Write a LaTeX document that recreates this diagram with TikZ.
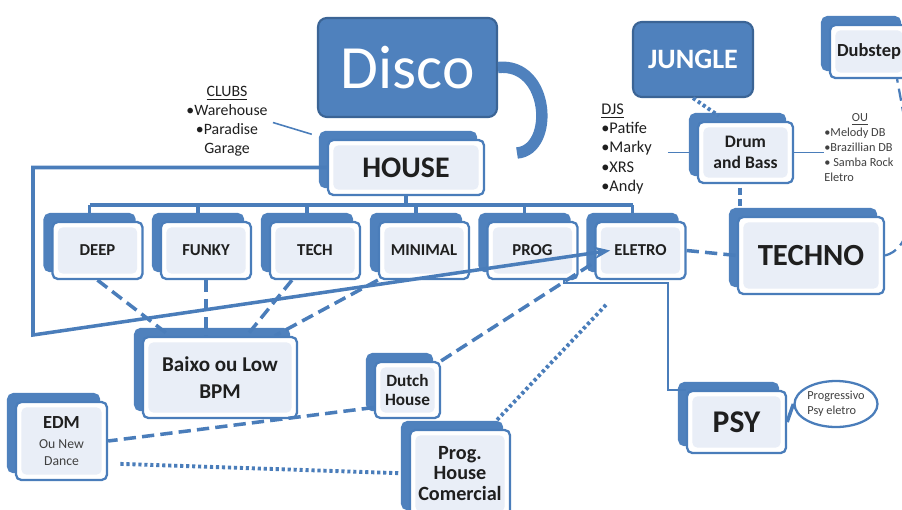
\documentclass[tikz,border=0pt]{standalone}
\usepackage{fontspec}
\setmainfont{Carlito}
\usetikzlibrary{positioning}
\usetikzlibrary{shadows, calc, shapes.geometric}
\usetikzlibrary{arrows.meta}

\definecolor{cardback}{HTML}{4F81BD}
\definecolor{cardline}{HTML}{4A7DBA}
\definecolor{cardin}{HTML}{E9EEF7}
\definecolor{cardtext}{HTML}{1F1F1F}
\definecolor{notetext}{HTML}{404040}

\begin{document}
\begin{tikzpicture}[
        x = 0.02cm, y = 0.02cm, % one unit = one pixel of the sketch
        card/.style = {draw=cardline, line width=1.3pt, rounded corners=3pt,
            fill=white, text=cardtext, align=center, inner sep=0pt,
            font=\bfseries,
            path picture={\fill[cardin] ([shift={(3pt,3pt)}]path picture bounding box.south west)
                rectangle ([shift={(-3pt,-3pt)}]path picture bounding box.north east);},
            copy shadow={shadow xshift=-4.5pt, shadow yshift=4.5pt, fill=cardback, draw=cardback}},
        rowcard/.style = {card, minimum width=1.8cm, minimum height=1.14cm,
            font=\fontsize{9.5}{11}\selectfont\bfseries},
        bigcard/.style = {draw=cardline!80!black, line width=1.2pt, rounded corners=5pt,
            fill=cardback, text=white, inner sep=0pt},
        note/.style = {text=cardtext, inner sep=0pt},
        dashline/.style = {draw=cardline, line width=2pt, dash pattern=on 7pt off 3.5pt},
        dotline/.style = {draw=cardline, line width=2.2pt, dash pattern=on 1.8pt off 1.6pt},
        thinline/.style = {draw=cardline, line width=0.9pt},
        link/.style = {draw=cardline, line width=1.4pt},
        bracket/.style = {draw=cardline, line width=2pt},
        discoarc/.style = {draw=cardback, line width=6.5pt}
        ]

  \useasboundingbox (0,0) rectangle (902,-510);

  % top of the tree
  \node[bigcard, minimum width=3.58cm, minimum height=1.98cm, font=\fontsize{35}{40}\selectfont] (disco) at (407.5,-67.5) {Disco};
  \node[card, minimum width=3.12cm, minimum height=1.1cm, font=\fontsize{17}{20}\selectfont\bfseries] (house) at (406,-167.5) {HOUSE};

  % house styles
  \node[rowcard] (deep) at (97.5,-250.5) {DEEP};
  \node[rowcard] (funky) at (206,-250.5) {FUNKY};
  \node[rowcard] (tech) at (315,-250.5) {TECH};
  \node[rowcard] (minimal) at (424,-250.5) {MINIMAL};
  \node[rowcard] (prog) at (532.5,-250.5) {PROG};
  \node[rowcard] (eletro) at (640.5,-250.5) {ELETRO};

  % right side
  \node[bigcard, minimum width=2.4cm, minimum height=1.5cm, font=\fontsize{16}{18}\selectfont\bfseries] (jungle) at (693,-59.5) {JUNGLE};
  \node[card, minimum width=1.9cm, minimum height=1.22cm, font=\fontsize{10}{12}\selectfont\bfseries] (drum) at (745.5,-152.5) {Drum\\and Bass};
  \node[card, minimum width=1.56cm, minimum height=1.06cm, font=\fontsize{10.5}{12}\selectfont\bfseries] (dubstep) at (869,-51.5) {Dubstep};
  \node[card, minimum width=2.92cm, minimum height=1.54cm, font=\fontsize{17.5}{20}\selectfont\bfseries] (techno) at (811,-255.5) {TECHNO};
  \node[card, minimum width=1.98cm, minimum height=1.24cm, font=\fontsize{18}{20}\selectfont\bfseries] (psy) at (736.5,-422) {PSY};
  \node[draw=cardline, line width=1.3pt, ellipse, minimum width=1.66cm, minimum height=0.92cm, inner sep=0pt,
        align=left, text=notetext, font=\fontsize{7}{8.5}\selectfont] (psynote) at (836,-404) {Progressivo\\Psy eletro};

  % bottom
  \node[card, minimum width=3.08cm, minimum height=1.62cm, font=\fontsize{12}{15}\selectfont\bfseries] (baixo) at (220,-377.5) {Baixo ou Low\\BPM};
  \node[card, minimum width=1.3cm, minimum height=1.12cm, font=\fontsize{9.8}{10.8}\selectfont\bfseries] (dutch) at (407.5,-390) {Dutch\\House};
  \node[card, minimum width=1.82cm, minimum height=1.56cm, text=notetext, font=\fontsize{7.8}{9.5}\selectfont] (edm) at (61.5,-441)
        {{\color{cardtext}\fontsize{10.5}{12}\selectfont\bfseries EDM}\\[2pt]Ou New\\Dance};
  \node[card, minimum width=2cm, minimum height=1.74cm, font=\fontsize{11.5}{11.5}\selectfont\bfseries] (proghouse) at (460,-473.5) {Prog.\\House\\Comercial};

  % notes
  \node[note, align=center, font=\fontsize{9}{10.8}\selectfont] (clubs) at (227,-121) {\underline{CLUBS}\\•Warehouse\\•Paradise\\Garage};
  \node[note, align=left, anchor=west, font=\fontsize{9.3}{11}\selectfont] (djs) at (601,-149) {\underline{DJS}\\•Patife\\•Marky\\•XRS\\•Andy};
  \node[note, align=left, anchor=west, text=notetext, font=\fontsize{7}{8.5}\selectfont] (ou) at (824,-147.5)
        {\hspace*{0.55cm}\underline{OU}\\•Melody DB\\•Brazillian DB\\• Samba Rock\\Eletro};

  % disco to house
  \coordinate (arcend) at (517,-153);
  \draw[discoarc] (disco.east) .. controls (550,-62) and (555,-150) .. (arcend);

  % house tree
  \coordinate (bar) at (0,-205);
  \draw[bracket] (house.south) -- (house.south |- bar);
  \draw[bracket] ([xshift=-4.5pt]deep.north |- bar) -- ([xshift=-4.5pt]eletro.north |- bar);
  \foreach \g in {deep,funky,tech,minimal,prog,eletro}
    \draw[bracket] ([xshift=-4.5pt]\g.north |- bar) -- ([xshift=-4.5pt,yshift=4.5pt]\g.north);

  % long way round to eletro
  \coordinate (framecorner) at (33,-335);
  \draw[bracket, -{Stealth[length=9pt,width=7pt]}] (house.west) -| (framecorner) -- ([xshift=9pt]eletro.west);

  \draw[dashline] (deep.south) -- ($(baixo.north west)!.18!(baixo.north east)$);
  \draw[dashline] (funky.south) -- (funky.south |- baixo.north);
  \draw[dashline] ($(tech.south west)!.25!(tech.south east)$) -- ($(baixo.north west)!.67!(baixo.north east)$);
  \draw[dashline] (minimal.south west) -- ($(baixo.north west)!.85!(baixo.north east)$);

  \draw[dashline] (dutch.north east) -- ($(eletro.south west)!.3!(eletro.north west)$);
  \draw[dashline] ($(dutch.south west)!.2!(dutch.north west)$) -- (edm.east);
  \draw[dotline, shorten <=7pt, shorten >=5pt] ($(edm.south east)!.22!(edm.north east)$) -- (proghouse.west);
  \draw[dotline, shorten <=7pt, shorten >=19pt] ($(proghouse.north west)!.78!(proghouse.north east)$) -- ($(eletro.south west)!.38!(eletro.south east)$);

  % psy
  \coordinate (psyknee) at (668,-283);
  \draw[link] ($(prog.south west)!.84!(prog.south east)$) |- (psyknee) |- (psy.north west);
  \draw[link, line width=2pt] (psy.east) -- (psynote.west);

  % techno side
  \draw[dashline] (eletro.east) -- (techno.west);
  \draw[dashline, dash pattern=on 4pt off 2.5pt, shorten <=2pt, shorten >=4.5pt] ([xshift=-3pt]drum.south) -- ([xshift=-3pt]drum.south |- techno.north);
  \draw[dotline, shorten >=5pt] (jungle.south) -- ($(drum.north west)!.3!(drum.north east)$);
  \draw[dashline, line width=1.3pt] (techno.east) to[out=15, in=-80, looseness=0.7] ($(dubstep.south west)!.85!(dubstep.south east)$);

  % notes to boxes
  \draw[thinline, shorten <=3pt, shorten >=9pt] (clubs.east) -- (house.north west);
  \draw[thinline, shorten <=9pt] (djs.east |- drum.west) -- ([xshift=-4.5pt]drum.west);
  \draw[thinline] (drum.east) -- (ou.west |- drum.east);

\end{tikzpicture}
\end{document}
